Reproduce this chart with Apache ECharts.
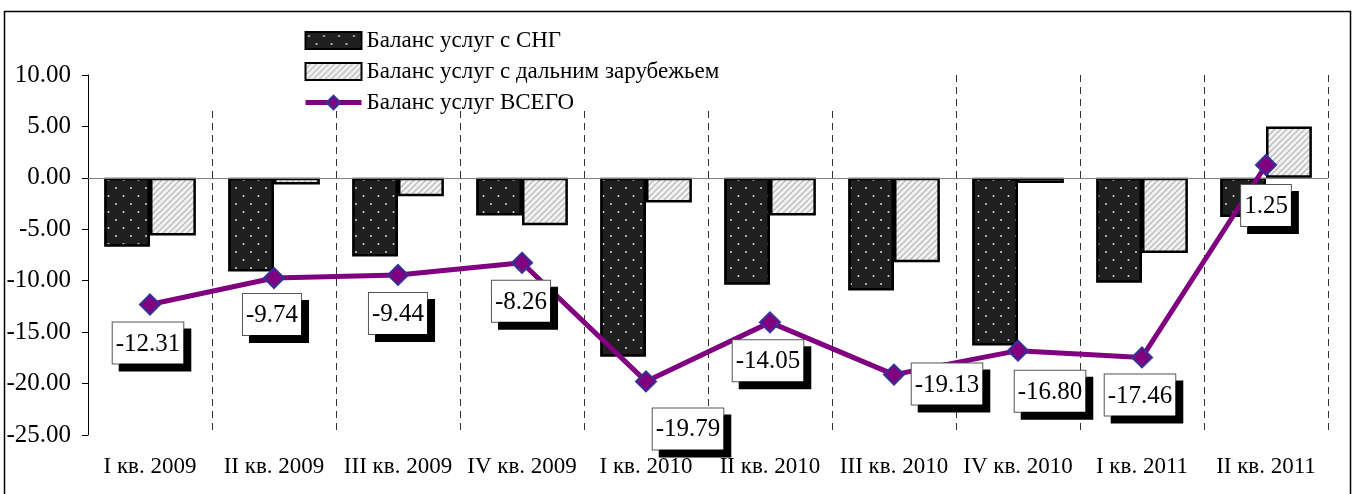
<!DOCTYPE html>
<html>
<head>
<meta charset="utf-8">
<script src="https://cdn.jsdelivr.net/npm/echarts@6/dist/echarts.min.js"></script>
<style>
  html, body { margin: 0; padding: 0; background: #fff; }
  #chart { width: 1355px; height: 494px; }
</style>
</head>
<body>
<div id="chart"></div>
<script>
// data
const quarters = ['I кв. 2009', 'II кв. 2009', 'III кв. 2009', 'IV кв. 2009', 'I кв. 2010',
  'II кв. 2010', 'III кв. 2010', 'IV кв. 2010', 'I кв. 2011', 'II кв. 2011']
const cisBalance = [-6.7, -9.1, -7.65, -3.65, -17.4, -10.4, -10.95, -16.3, -10.2, -3.8]
const farBalance = [-5.6, -0.65, -1.8, -4.6, -2.4, -3.65, -8.2, -0.5, -7.3, 5.0]
const totalBalance = [-12.31, -9.74, -9.44, -8.26, -19.79, -14.05, -19.13, -16.80, -17.46, 1.25]
const yMin = -25
const yMax = 10
const yStep = 5

// label shifts (layout only)
const labelShift = [[-2, 0], [-2, -2], [0, 0], [-1, 0], [42, 9], [-2, 0], [53, -29], [32, 2], [-2, -1], [0, 2]]

const serif = '"Liberation Serif", "Times New Roman", serif'

function dotPattern () {
  const c = document.createElement('canvas')
  c.width = 15
  c.height = 16
  const ctx = c.getContext('2d')
  ctx.fillStyle = '#1f1f1f'
  ctx.fillRect(0, 0, 15, 16)
  ctx.fillStyle = '#d8d8d8'
  ctx.beginPath()
  ctx.arc(3.5, 4, 1, 0, Math.PI * 2)
  ctx.arc(11, 12, 1, 0, Math.PI * 2)
  ctx.fill()
  return c
}

function hatchPattern () {
  const c = document.createElement('canvas')
  c.width = 6
  c.height = 6
  const ctx = c.getContext('2d')
  ctx.fillStyle = '#f4f4f4'
  ctx.fillRect(0, 0, 6, 6)
  ctx.strokeStyle = '#c4c4c4'
  ctx.lineWidth = 1.6
  ctx.beginPath()
  ctx.moveTo(-1, 7); ctx.lineTo(7, -1)
  ctx.moveTo(-4, 4); ctx.lineTo(4, -4)
  ctx.moveTo(2, 10); ctx.lineTo(10, 2)
  ctx.stroke()
  return c
}

const chart = echarts.init(document.getElementById('chart'))

chart.setOption({
  animation: false,
  backgroundColor: '#fff',
  grid: { left: 88, right: 27, top: 75, bottom: 59 },
  graphic: [
    {
      type: 'rect',
      z: 1,
      silent: true,
      shape: { x: 150, y: 14, width: 760, height: 93 },
      style: { fill: '#fff' }
    },
    {
      type: 'rect',
      z: 10,
      silent: true,
      shape: { x: 4.5, y: 11.5, width: 1346, height: 490 },
      style: { fill: 'none', stroke: '#000', lineWidth: 1.5 }
    }
  ],
  legend: {
    orient: 'vertical',
    left: 298,
    top: 24,
    itemWidth: 56,
    itemHeight: 17,
    itemGap: 8,
    textStyle: { fontFamily: serif, fontSize: 23, color: '#000' },
    data: [
      { name: 'Баланс услуг с СНГ', icon: 'rect' },
      { name: 'Баланс услуг с дальним зарубежьем', icon: 'rect' },
      { name: 'Баланс услуг ВСЕГО', lineStyle: { width: 5 } }
    ]
  },
  xAxis: {
    type: 'category',
    data: quarters,
    axisLine: { show: false },
    axisTick: { show: false },
    axisLabel: { interval: 0, fontFamily: serif, fontSize: 23, color: '#000', margin: 20 },
    splitLine: {
      show: true,
      interval: 0,
      lineStyle: { color: '#333', width: 1, type: [7, 5] }
    }
  },
  yAxis: {
    type: 'value',
    min: yMin,
    max: yMax,
    interval: yStep,
    axisLine: { show: true, lineStyle: { color: '#000', width: 1 } },
    axisTick: { show: true, length: 6, lineStyle: { color: '#000' } },
    axisLabel: {
      fontFamily: serif,
      fontSize: 25,
      color: '#000',
      margin: 17,
      formatter: v => v.toFixed(2)
    },
    splitLine: { show: false }
  },
  series: [
    {
      name: 'Баланс услуг с СНГ',
      type: 'bar',
      data: cisBalance,
      barGap: '0%',
      barCategoryGap: '26%',
      itemStyle: {
        color: { image: dotPattern(), repeat: 'repeat' },
        borderColor: '#000',
        borderWidth: 2.5
      },
      markLine: {
        silent: true,
        symbol: 'none',
        label: { show: false },
        lineStyle: { color: '#808080', width: 1, type: 'solid' },
        data: [{ yAxis: 0 }]
      }
    },
    {
      name: 'Баланс услуг с дальним зарубежьем',
      type: 'bar',
      data: farBalance,
      itemStyle: {
        color: { image: hatchPattern(), repeat: 'repeat' },
        borderColor: '#000',
        borderWidth: 2.5
      }
    },
    {
      name: 'Баланс услуг ВСЕГО',
      type: 'line',
      z: 5,
      data: totalBalance.map((v, i) => ({
        value: v,
        label: { offset: labelShift[i] }
      })),
      symbol: 'diamond',
      symbolSize: 20,
      lineStyle: { color: '#800080', width: 5 },
      itemStyle: { color: '#800080', borderColor: '#333399', borderWidth: 2 },
      label: {
        show: true,
        position: 'bottom',
        distance: 7,
        fontFamily: serif,
        fontSize: 25,
        color: '#000',
        backgroundColor: '#fff',
        borderColor: '#555',
        borderWidth: 1,
        padding: [9, 3, 7, 3],
        shadowColor: '#000',
        shadowBlur: 0,
        shadowOffsetX: 7,
        shadowOffsetY: 7,
        formatter: p => p.value.toFixed(2)
      }
    }
  ]
})
</script>
</body>
</html>
